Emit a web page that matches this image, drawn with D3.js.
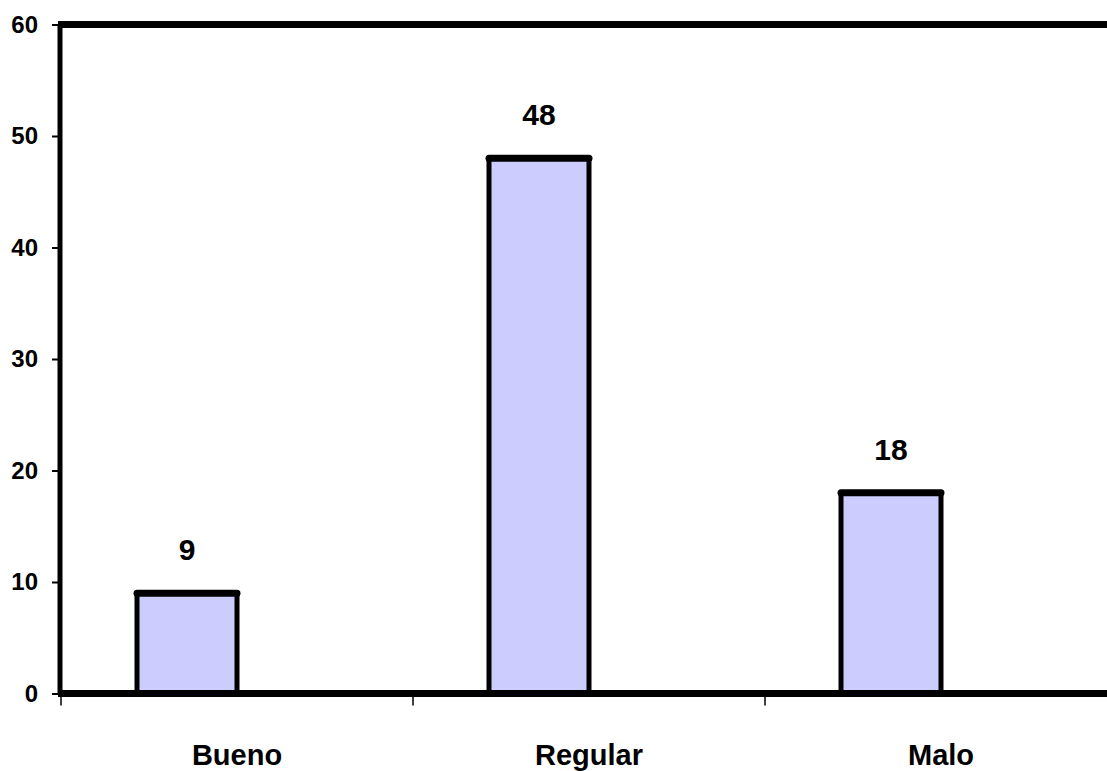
<!DOCTYPE html>
<html lang="es">
<head>
<meta charset="utf-8">
<title>Calificación</title>
<script src="https://cdn.jsdelivr.net/npm/d3@7"></script>
<style>
  html, body { margin: 0; padding: 0; background: #ffffff; }
  svg { display: block; }
  text { font-family: "Liberation Sans", Arial, Helvetica, sans-serif; font-weight: bold; fill: #000; }
</style>
</head>
<body>
<svg id="chart" width="1107" height="771"></svg>
<script>
// Data
const categories = ["Bueno", "Regular", "Malo"];
const values = [9, 48, 18];
// Each category reserves two series slots; only the first one carries data.
const seriesSlots = ["Frecuencia", "Vacío"];
const yTicks = [0, 10, 20, 30, 40, 50, 60];

const svg = d3.select("#chart");

// Plot area (extends past the right edge of the window)
const plot = { left: 60, top: 24.5, right: 1117, bottom: 693.5 };

const x = d3.scaleBand()
  .domain(categories)
  .range([plot.left + 1, plot.right])
  .paddingInner(0)
  .paddingOuter(0);

const xSlot = d3.scaleBand()
  .domain(seriesSlots)
  .range([0, x.bandwidth()])
  .paddingInner(0)
  .paddingOuter(0.76);

const y = d3.scaleLinear()
  .domain([0, 60])
  .range([plot.bottom, plot.top]);

// Bars
const barData = categories.map((c, i) => ({ cat: c, value: values[i] }));
const bars = svg.append("g").attr("class", "bars");

bars.selectAll("rect")
  .data(barData)
  .join("rect")
  .attr("x", d => x(d.cat) + xSlot(seriesSlots[0]))
  .attr("y", d => y(d.value))
  .attr("width", xSlot.bandwidth())
  .attr("height", d => y(0) - y(d.value))
  .attr("fill", "#ccccff");

// Bar outlines: thinner sides, heavier top edge
bars.selectAll("path.side")
  .data(barData)
  .join("path")
  .attr("class", "side")
  .attr("d", d => {
    const x0 = x(d.cat) + xSlot(seriesSlots[0]);
    const x1 = x0 + xSlot.bandwidth();
    return `M${x0},${y(0)}V${y(d.value)}H${x1}V${y(0)}`;
  })
  .attr("fill", "none")
  .attr("stroke", "#000")
  .attr("stroke-width", 5)
  .attr("stroke-linejoin", "round");

bars.selectAll("line.top")
  .data(barData)
  .join("line")
  .attr("class", "top")
  .attr("x1", d => x(d.cat) + xSlot(seriesSlots[0]))
  .attr("x2", d => x(d.cat) + xSlot(seriesSlots[0]) + xSlot.bandwidth())
  .attr("y1", d => y(d.value))
  .attr("y2", d => y(d.value))
  .attr("stroke", "#000")
  .attr("stroke-width", 7)
  .attr("stroke-linecap", "round");

// Value labels
svg.append("g").attr("class", "values")
  .selectAll("text")
  .data(barData)
  .join("text")
  .attr("x", d => x(d.cat) + xSlot(seriesSlots[0]) + xSlot.bandwidth() / 2)
  .attr("y", d => y(d.value) - 33)
  .attr("text-anchor", "middle")
  .attr("font-size", 30)
  .text(d => d.value);

// Y axis
const yAxis = d3.axisLeft(y)
  .tickValues(yTicks)
  .tickSize(8)
  .tickPadding(14)
  .tickFormat(d3.format("d"));

const gy = svg.append("g")
  .attr("transform", `translate(${plot.left},0)`)
  .call(yAxis);
gy.select(".domain").remove();
gy.selectAll(".tick line").attr("stroke", "#000").attr("stroke-width", 2);
gy.selectAll(".tick text")
  .attr("font-size", 24)
  .attr("font-family", "'Liberation Sans', Arial, sans-serif")
  .attr("font-weight", "bold")
  .attr("fill", "#000");

// X axis: tick marks at category boundaries, labels at band centers
const boundaries = categories.map(c => x(c)).concat([x.range()[1]]);
svg.append("g").attr("class", "x-ticks")
  .selectAll("line")
  .data(boundaries)
  .join("line")
  .attr("x1", d => d).attr("x2", d => d)
  .attr("y1", plot.bottom).attr("y2", plot.bottom + 12)
  .attr("stroke", "#000")
  .attr("stroke-width", 1.5);

svg.append("g").attr("class", "x-labels")
  .selectAll("text")
  .data(categories)
  .join("text")
  .attr("x", d => x(d) + x.bandwidth() / 2)
  .attr("y", 765)
  .attr("text-anchor", "middle")
  .attr("font-size", 29)
  .text(d => d);

// Frame lines: top border, left axis, baseline
svg.append("line")
  .attr("x1", plot.left - 2).attr("x2", plot.right)
  .attr("y1", plot.top).attr("y2", plot.top)
  .attr("stroke", "#000").attr("stroke-width", 7);

svg.append("line")
  .attr("x1", plot.left).attr("x2", plot.left)
  .attr("y1", plot.top).attr("y2", plot.bottom)
  .attr("stroke", "#000").attr("stroke-width", 5);

svg.append("line")
  .attr("x1", plot.left - 2).attr("x2", plot.right)
  .attr("y1", plot.bottom).attr("y2", plot.bottom)
  .attr("stroke", "#000").attr("stroke-width", 7);
</script>
</body>
</html>
